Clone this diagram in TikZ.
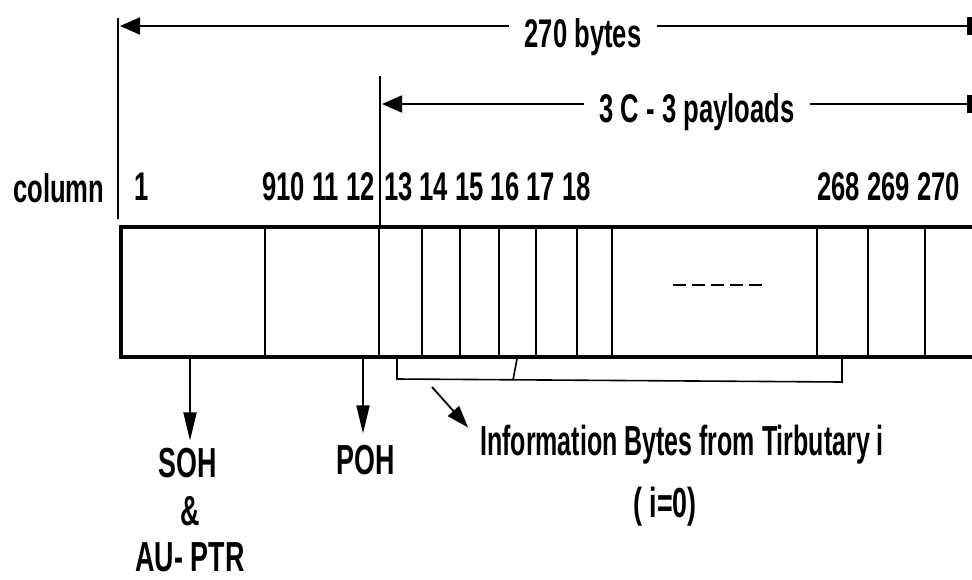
\documentclass[tikz,border=0pt]{standalone}
\usepackage{fontspec}
\newfontfamily\lab[FakeStretch=0.64]{Liberation Sans Bold}
\newfontfamily\labn[FakeStretch=0.595]{Liberation Sans Bold}
\usetikzlibrary{arrows.meta}
\begin{document}
\begin{tikzpicture}[x=1pt,y=-1pt,
  lbl/.style={font=\lab\fontsize{40}{48}\selectfont, inner sep=0pt},
  blbl/.style={font=\lab\fontsize{42}{50}\selectfont, inner sep=0pt},
  nlbl/.style={font=\labn\fontsize{42}{50}\selectfont, inner sep=0pt},
  dimlbl/.style={lbl, inner xsep=15pt},
  dim/.style={line width=1.8pt},
  frame/.style={line width=4.5pt, line join=miter},
  divline/.style={line width=1.6pt},
  lefttip/.style={-{Triangle[length=20pt,width=17pt]}},
  endbar/.style={-{Rectangle[length=5pt,width=18pt]}},
  downtip/.style={-{Triangle[length=28pt,width=13pt]}},
]
\useasboundingbox (0,0) rectangle (972,579);

% top dimension: 270 bytes
\coordinate (l1) at (120,26);
\coordinate (r1) at (972,26);
\node[dimlbl, anchor=base] (b270) at (583,47) {270 bytes};
\draw[dim, lefttip] (b270.west |- l1) -- (l1);
\draw[dim, endbar] (b270.east |- r1) -- (r1);

% second dimension: 3C-3 payloads
\coordinate (l2) at (382,104);
\coordinate (r2) at (972,104);
\node[dimlbl, anchor=base] (pay) at (697,122) {3 C - 3 payloads};
\draw[dim, lefttip] (pay.west |- l2) -- (l2);
\draw[dim, endbar] (pay.east |- r2) -- (r2);

% extension lines
\coordinate (v1t) at (118,18);
\coordinate (v1b) at (118,219);
\coordinate (v2t) at (380,76);
\coordinate (v2b) at (380,227);
\draw[dim] (v1t) -- (v1b);
\draw[dim] (v2t) -- (v2b);

% column labels
\node[lbl, anchor=base west] (colw) at (13,202) {column};
\node[lbl, anchor=base] (c1) at (142,200) {1};
\node[lbl, anchor=base east] (c912) at (375,200) {910 11 12};
\node[lbl, anchor=base west] (c1318) at (384,200) {13 14 15 16 17 18};
\node[lbl, anchor=base east] (c268) at (960,200) {268 269 270};

% frame
\draw[frame] (974,227) -- (121,227) -- (121,357) -- (974,357);
\foreach \x in {265,379,422,460,499,536,577,612,817,868,925}
  \draw[divline] (\x,227) -- (\x,357);
\draw[line width=2pt, dash pattern=on 13pt off 6pt] (673,285) -- (765,285);

% SOH & AU-PTR
\node[blbl, anchor=base] (soh) at (188,477) {SOH};
\node[blbl, anchor=base] (amp) at (190,525) {\&};
\node[blbl, anchor=base] (aup) at (190,571) {AU- PTR};
\coordinate (s0) at (190,359);
\draw[dim, downtip, shorten >=7pt] (s0) -- (s0 |- soh.north);

% POH
\node[blbl, anchor=base] (poh) at (366,474) {POH};
\coordinate (p0) at (363,359);
\draw[dim, downtip, shorten >=11pt] (p0) -- (p0 |- poh.north);

% bracket
\draw[divline] (397,359) -- (397,379) -- (842,382) -- (842,359);
\draw[divline] (517,359) -- (513,380);

% information label
\node[nlbl, anchor=base west] (info) at (480,455) {Information Bytes from Tirbutary i};
\node[blbl, anchor=base] (ieq) at (665,517) {( i=0)};
\coordinate (d0) at (432,387);
\draw[dim, -{Triangle[length=22pt,width=15pt]}] (d0) -- ([shift={(-12,3)}]info.north west);
\end{tikzpicture}
\end{document}
